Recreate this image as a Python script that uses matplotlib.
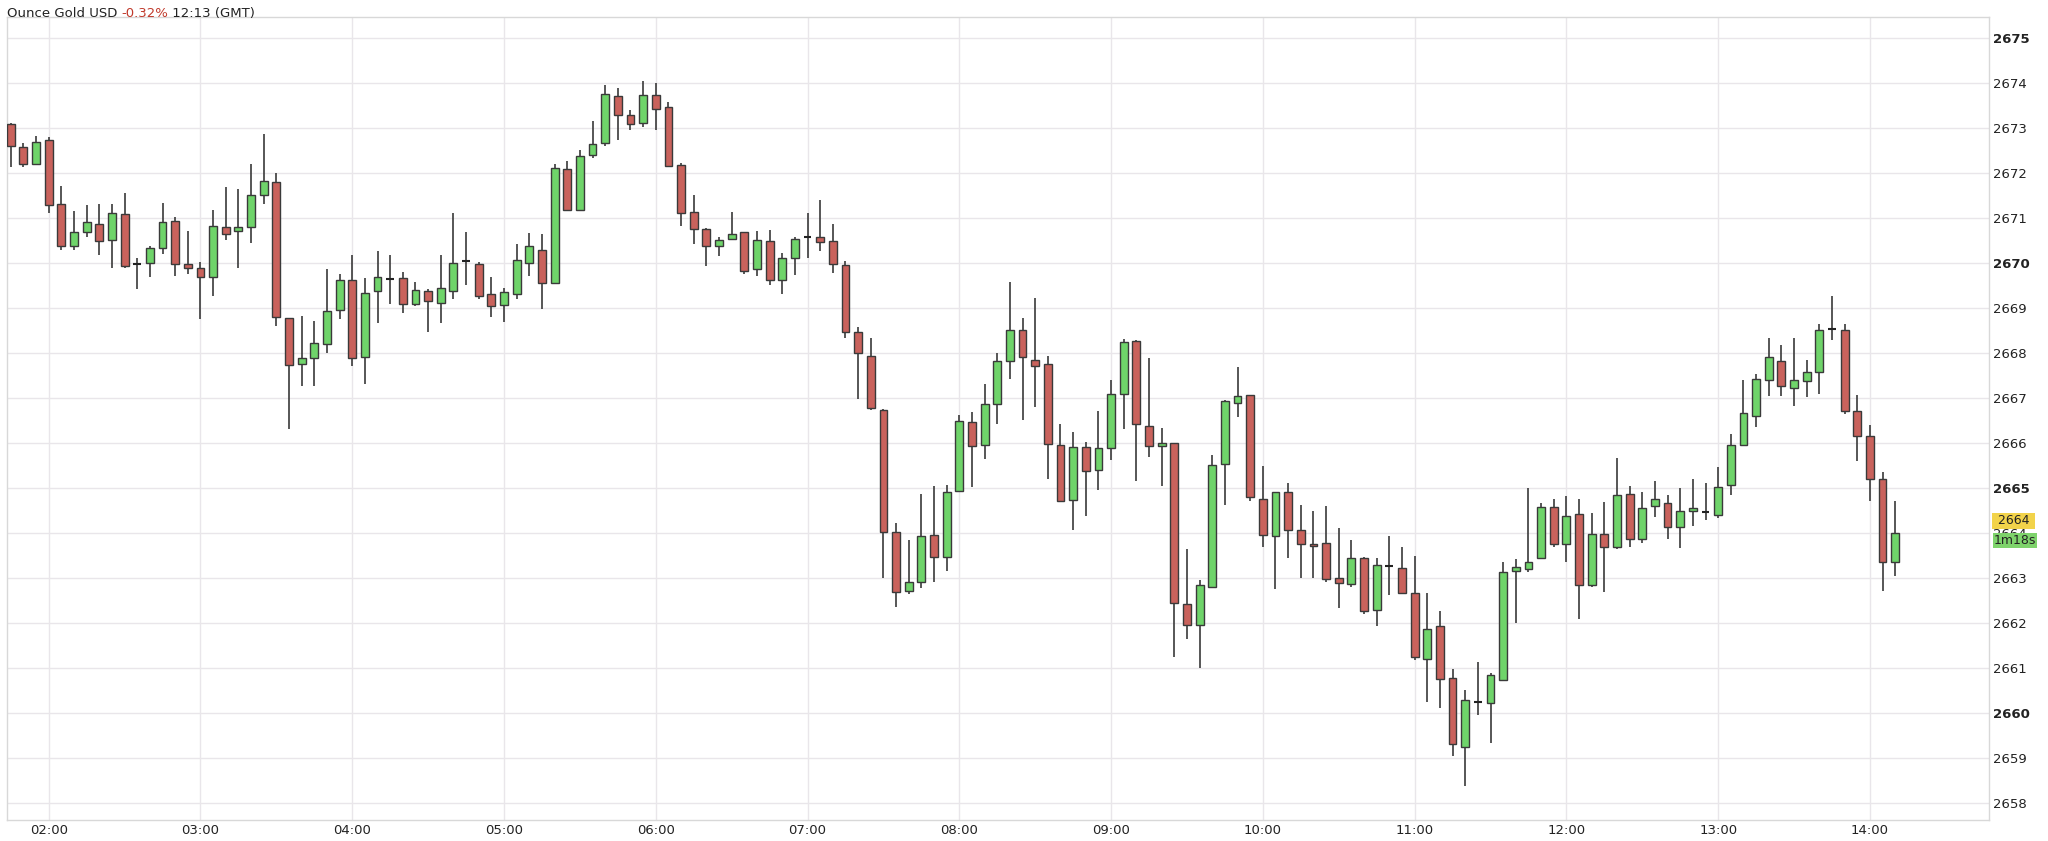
import matplotlib
matplotlib.use("Agg")
import matplotlib.pyplot as plt
import matplotlib.transforms as mtransforms
import numpy as np

opens = [2673.07,2672.57,2672.2,2672.72,2671.31,2670.38,2670.67,2670.86,2670.5,2671.07,
2669.97,2669.99,2670.32,2670.93,2669.97,2669.87,2669.67,2670.8,2670.71,2670.79,
2671.51,2671.8,2668.77,2667.74,2667.89,2668.19,2668.94,2669.61,2667.9,2669.37,
2669.64,2669.65,2669.08,2669.38,2669.1,2669.38,2670.04,2669.96,2669.31,2669.05,
2669.31,2669.99,2670.29,2669.54,2672.07,2671.17,2672.39,2672.66,2673.7,2673.28,
2673.11,2673.73,2673.45,2672.16,2671.12,2670.74,2670.38,2670.53,2670.67,2669.86,
2670.49,2669.62,2670.11,2670.57,2670.58,2670.48,2669.95,2668.46,2667.93,2666.73,
2664.02,2662.71,2662.91,2663.94,2663.46,2664.92,2666.47,2665.94,2666.85,2667.82,
2668.51,2667.84,2667.74,2665.96,2664.73,2665.9,2665.39,2665.88,2667.08,2668.25,
2666.37,2665.93,2665.99,2662.41,2661.96,2662.79,2665.52,2666.88,2667.05,2664.76,
2663.93,2664.9,2664.07,2663.76,2663.77,2662.99,2662.87,2663.45,2662.28,2663.27,
2663.21,2662.67,2661.2,2661.92,2660.78,2659.24,2660.23,2660.22,2660.74,2663.16,
2663.2,2663.43,2664.57,2663.76,2664.41,2662.84,2663.98,2663.69,2664.87,2663.87,
2664.6,2664.67,2664.13,2664.49,2664.45,2664.4,2665.05,2665.96,2666.59,2667.4,
2667.81,2667.22,2667.37,2667.58,2668.52,2668.5,2666.71,2666.15,2665.19,2663.34]
highs = [2673.1,2672.65,2672.82,2672.78,2671.7,2671.15,2671.28,2671.3,2671.3,2671.54,
2670.1,2670.36,2671.32,2671.02,2670.7,2670.01,2671.16,2671.67,2671.64,2672.2,
2672.86,2672.0,2668.77,2668.82,2668.7,2669.85,2669.75,2670.18,2669.66,2670.25,
2670.18,2669.8,2669.57,2669.42,2670.18,2671.1,2670.67,2670.02,2669.67,2669.43,
2670.41,2670.66,2670.64,2672.2,2672.26,2672.51,2673.15,2673.94,2673.87,2673.39,
2674.03,2673.99,2673.57,2672.22,2671.51,2670.76,2670.57,2671.12,2670.68,2670.7,
2670.73,2670.21,2670.57,2671.1,2671.4,2670.85,2670.04,2668.56,2668.33,2666.75,
2664.22,2663.85,2664.86,2665.04,2665.07,2666.61,2666.69,2667.3,2667.99,2669.57,
2668.76,2669.21,2667.93,2666.41,2666.23,2666.02,2666.7,2667.39,2668.31,2668.28,
2667.88,2666.32,2666.0,2663.64,2662.95,2665.72,2666.95,2667.69,2667.07,2665.48,
2664.9,2665.1,2664.62,2664.48,2664.6,2664.1,2663.85,2663.46,2663.43,2663.92,
2663.68,2663.49,2662.67,2662.26,2660.98,2660.5,2661.14,2660.88,2663.35,2663.42,
2664.99,2664.66,2664.74,2664.82,2664.74,2664.44,2664.69,2665.67,2665.04,2664.9,
2665.15,2664.83,2665.0,2665.2,2665.1,2665.46,2666.19,2667.39,2667.52,2668.32,
2668.17,2668.32,2667.84,2668.63,2669.25,2668.63,2667.07,2666.4,2665.36,2664.7]
lows = [2672.12,2672.12,2672.18,2671.1,2670.29,2670.29,2670.57,2670.18,2669.87,2669.87,
2669.42,2669.68,2670.19,2669.7,2669.75,2668.74,2669.25,2670.5,2669.88,2670.44,
2671.31,2668.6,2666.31,2667.25,2667.25,2668.0,2668.75,2667.7,2667.3,2668.65,
2669.08,2668.89,2669.04,2668.47,2668.65,2669.2,2669.5,2669.2,2668.8,2668.68,
2669.2,2669.7,2668.97,2669.54,2671.16,2671.16,2672.33,2672.6,2672.73,2672.94,
2673.02,2672.95,2672.12,2670.82,2670.41,2669.92,2670.14,2670.52,2669.75,2669.7,
2669.51,2669.31,2669.73,2670.1,2670.26,2669.77,2668.32,2666.96,2666.73,2663.0,
2662.35,2662.64,2662.78,2662.91,2663.15,2664.9,2665.02,2665.63,2666.41,2667.42,
2666.5,2666.79,2665.19,2664.69,2664.07,2664.38,2664.94,2665.62,2666.31,2665.15,
2665.69,2665.04,2661.25,2661.63,2660.99,2662.77,2664.62,2666.56,2664.71,2663.68,
2662.74,2663.43,2663.0,2663.0,2662.9,2662.32,2662.79,2662.2,2661.93,2662.61,
2662.66,2661.17,2660.23,2660.11,2659.04,2658.38,2659.96,2659.33,2660.73,2662.0,
2663.12,2663.41,2663.68,2663.36,2662.08,2662.8,2662.68,2663.65,2663.68,2663.78,
2664.35,2663.87,2663.67,2664.15,2664.29,2664.32,2664.83,2665.94,2666.36,2667.04,
2667.04,2666.81,2667.01,2667.09,2668.29,2666.64,2665.6,2664.7,2662.71,2663.05]
closes = [2672.58,2672.18,2672.69,2671.29,2670.38,2670.67,2670.91,2670.48,2671.1,2669.92,
2669.97,2670.32,2670.91,2669.96,2669.88,2669.67,2670.81,2670.63,2670.79,2671.51,
2671.82,2668.8,2667.72,2667.89,2668.22,2668.93,2669.61,2667.89,2669.33,2669.68,
2669.64,2669.07,2669.4,2669.15,2669.43,2669.99,2670.04,2669.26,2669.03,2669.35,
2670.05,2670.36,2669.54,2672.11,2671.17,2672.37,2672.64,2673.75,2673.29,2673.07,
2673.73,2673.41,2672.15,2671.1,2670.74,2670.36,2670.5,2670.64,2669.82,2670.5,
2669.62,2670.1,2670.52,2670.57,2670.45,2669.98,2668.47,2668.0,2666.76,2664.02,
2662.69,2662.9,2663.93,2663.46,2664.9,2666.49,2665.93,2666.86,2667.82,2668.51,
2667.9,2667.71,2665.98,2664.71,2665.9,2665.37,2665.88,2667.09,2668.23,2666.42,
2665.93,2665.99,2662.45,2661.96,2662.85,2665.5,2666.93,2667.04,2664.79,2663.94,
2664.9,2664.07,2663.76,2663.7,2662.98,2662.88,2663.43,2662.27,2663.29,2663.27,
2662.67,2661.24,2661.87,2660.76,2659.3,2660.29,2660.23,2660.84,2663.12,2663.24,
2663.36,2664.57,2663.76,2664.37,2662.83,2663.98,2663.69,2664.84,2663.86,2664.56,
2664.75,2664.12,2664.49,2664.56,2664.45,2665.02,2665.96,2666.65,2667.41,2667.9,
2667.25,2667.4,2667.58,2668.5,2668.52,2666.71,2666.16,2665.2,2663.34,2664.0]

hour_labels = ["02:00","03:00","04:00","05:00","06:00","07:00","08:00","09:00",
               "10:00","11:00","12:00","13:00","14:00"]
price_ticks = list(range(2658, 2676))
last_price_label = "2664"
countdown_label = "1m18s"

GREEN = "#6fd46a"
RED = "#c9625c"
EDGE = "#3a3a3a"

fig = plt.figure(figsize=(20.48, 8.41), dpi=100)
ax = fig.add_axes([0.0034, 0.025, 0.9677, 0.955])

n = len(opens)
x = np.arange(n) - 3  # index 3 = 02:00, 5-minute bars
o = np.array(opens); c = np.array(closes); h = np.array(highs); l = np.array(lows)

ax.vlines(x, l, h, color=EDGE, linewidth=1.2, zorder=2)
up = c > o
dn = c < o
eq = c == o
w = 0.62
ax.bar(x[up], (c - o)[up], bottom=o[up], width=w, color=GREEN, edgecolor=EDGE, linewidth=1.0, zorder=3)
ax.bar(x[dn], (o - c)[dn], bottom=c[dn], width=w, color=RED, edgecolor=EDGE, linewidth=1.0, zorder=3)
ax.hlines(o[eq], x[eq] - w / 2, x[eq] + w / 2, color="#222222", linewidth=1.5, zorder=3)

ax.set_xlim(-3.3, 153.4)
ax.set_ylim(2657.62, 2675.46)

ax.set_xticks([12 * i for i in range(len(hour_labels))])
ax.set_xticklabels(hour_labels, fontsize=9.5, color="#222222")
ax.set_yticks(price_ticks)
ax.yaxis.tick_right()
ax.set_yticklabels([str(p) for p in price_ticks], fontsize=9.5, color="#222222")
for lbl, p in zip(ax.get_yticklabels(), price_ticks):
    if p % 5 == 0:
        lbl.set_fontweight("bold")
ax.tick_params(axis="both", length=0, pad=3)
ax.grid(True, color="#e9e6ea", linewidth=1.0, zorder=0)
ax.set_axisbelow(True)
for s in ax.spines.values():
    s.set_color("#d8d8d8")
    s.set_linewidth(1.0)

tr = mtransforms.blended_transform_factory(ax.transAxes, ax.transData)
ax.text(1.0025, 2664.12, " " + last_price_label + " ", transform=tr, ha="left", va="bottom", fontsize=9,
        color="#222222", bbox=dict(boxstyle="square,pad=0.12", fc="#f2d34a", ec="none"))
ax.text(1.0025, 2663.98, countdown_label, transform=tr, ha="left", va="top", fontsize=9,
        color="#222222", bbox=dict(boxstyle="square,pad=0.08", fc="#7ed36b", ec="none"))

t1 = fig.text(0.0034, 0.992, "Ounce Gold USD ", fontsize=9.5, color="#222222", va="top", ha="left")
fig.canvas.draw()
x1 = t1.get_window_extent().x1 / fig.bbox.width
t2 = fig.text(x1, 0.992, "-0.32%", fontsize=9.5, color="#c0392b", va="top", ha="left")
fig.canvas.draw()
x2 = t2.get_window_extent().x1 / fig.bbox.width
fig.text(x2, 0.992, " 12:13 (GMT)", fontsize=9.5, color="#222222", va="top", ha="left")

fig.savefig("out.png", dpi=100)
